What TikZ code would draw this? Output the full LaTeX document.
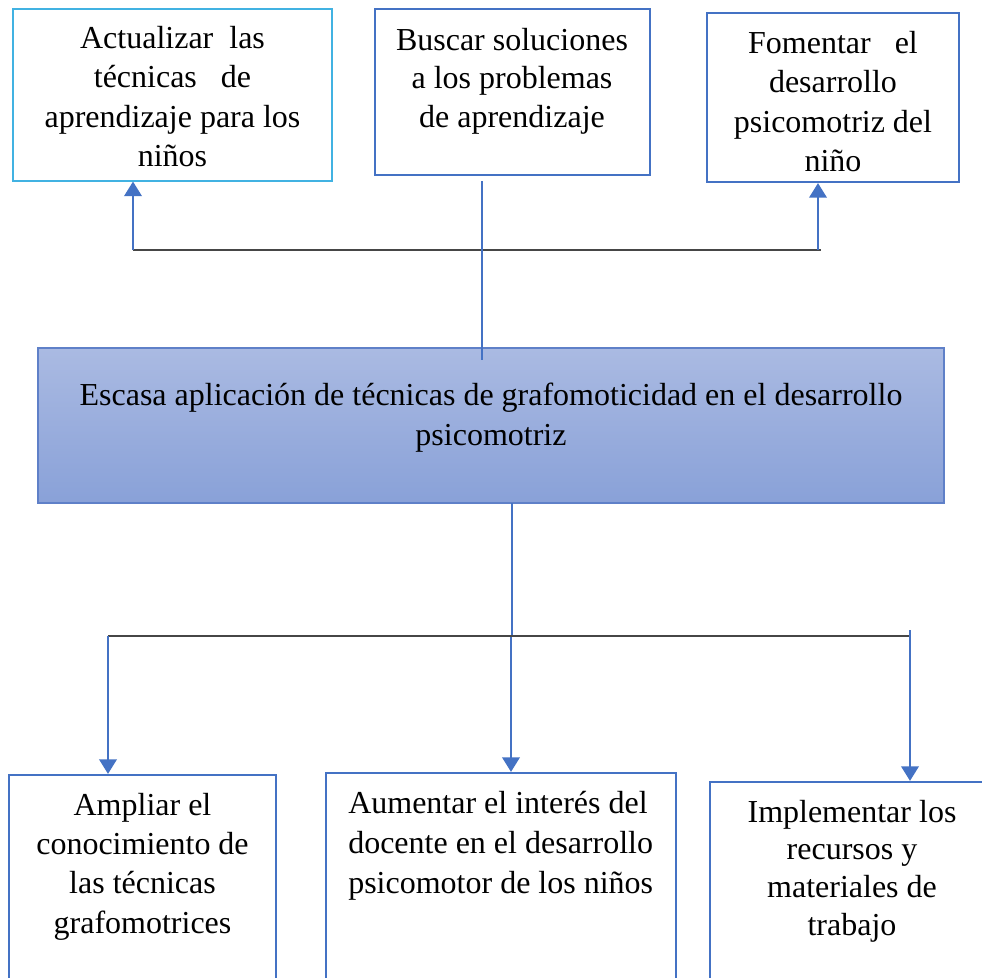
\documentclass[tikz,border=0pt]{standalone}
\usepackage{fontspec}
\setmainfont{Liberation Serif}
\usetikzlibrary{arrows.meta,calc,fit}
\definecolor{cyanb}{RGB}{65,178,226}
\definecolor{blueb}{RGB}{68,114,196}
\definecolor{darkl}{RGB}{70,70,70}
\definecolor{gtop}{RGB}{170,186,226}
\definecolor{gbot}{RGB}{137,161,216}
\definecolor{cborder}{RGB}{95,128,200}
\tikzset{
  boxcyan/.style={draw=cyanb,line width=0.8pt,inner sep=0pt},
  boxblue/.style={draw=blueb,line width=1.6pt,inner sep=0pt},
  boxmain/.style={draw=cborder,line width=1pt,inner sep=0pt,top color=gtop,bottom color=gbot},
  txt/.style={inner sep=0pt,anchor=base,align=flush center,font=\fontsize{24}{29.7}\selectfont},
  darkline/.style={draw=darkl,line width=1.4pt},
  thinblue/.style={draw=blueb,line width=0.8pt},
  bluearrow/.style={draw=blueb,line width=2.1pt,-{Triangle[width=13pt,length=11pt]}},
}
\begin{document}
\begin{tikzpicture}[x=0.75pt,y=-0.75pt]
\useasboundingbox (0,0) rectangle (982,978);
\clip (0,0) rectangle (982,978);
\fill[white] (0,0) rectangle (982,978);
% boxes
\node[boxcyan,fit={(13,9) (332,181)}] (b1) {};
\node[boxblue,fit={(375,9) (650,175)}] (b2) {};
\node[boxblue,fit={(707,13) (959,182)}] (b3) {};
\node[boxmain,fit={(38,348) (944,503)}] (bc) {};
\node[boxblue,fit={(9,775) (276,1010)}] (b4) {};
\node[boxblue,fit={(326,773) (676,1010)}] (b5) {};
\node[boxblue,fit={(710,782) (1000,1010)}] (b6) {};
% texts
\node[txt,text width=230pt] (t1) at (172.5,48) {Actualizar\ \ las\\t\'ecnicas\ \ \ de\\aprendizaje para los\\ni\~nos};
\node[txt,text width=200pt,font=\fontsize{24}{28.9}\selectfont] (t2) at (512,50) {Buscar soluciones\\a los problemas\\de aprendizaje};
\node[txt,text width=185pt] (t3) at (833,53) {Fomentar\ \ \ el\\desarrollo\\psicomotriz del\\ni\~no};
\node[txt,text width=650pt,font=\fontsize{24}{30}\selectfont] (tc) at (491,405) {Escasa aplicaci\'on de t\'ecnicas de grafomoticidad en el desarrollo\\psicomotriz};
\node[txt,text width=195pt,font=\fontsize{24}{29.5}\selectfont] (t4) at (142.5,815) {Ampliar el\\conocimiento de\\las t\'ecnicas\\grafomotrices};
\node[txt,text width=240pt,align=flush left,anchor=base west,font=\fontsize{24}{30}\selectfont] (t5) at (348,813) {Aumentar el inter\'es del\\docente en el desarrollo\\psicomotor de los ni\~nos};
\node[txt,text width=190pt,font=\fontsize{24}{28.3}\selectfont] (t6) at (852,822) {Implementar los\\recursos y\\materiales de\\trabajo};
% top connectors
\coordinate (hL) at (133,250);
\coordinate (hR) at (821,250);
\coordinate (hR2) at (818,250);
\coordinate (vTop) at (482,181);
\coordinate (vBot) at (482,360);
\draw[darkline] (hL) -- (hR);
\draw[bluearrow] (hL) -- (hL |- b1.south);
\draw[bluearrow] (hR2) -- (hR2 |- b3.south);
\draw[thinblue] (vTop) -- (vBot);
% bottom connectors
\coordinate (cB) at (512,503);
\coordinate (cJ) at (512,636);
\coordinate (gL) at (108,636);
\coordinate (gR) at (910,636);
\coordinate (gR0) at (910,630);
\coordinate (gM) at (511,637);
\draw[thinblue] (cB) -- (cJ);
\draw[darkline] (gL) -- (gR);
\draw[bluearrow] (gL) -- (gL |- b4.north);
\draw[bluearrow] (gM) -- (gM |- b5.north);
\draw[bluearrow] (gR0) -- (gR0 |- b6.north);
\end{tikzpicture}
\end{document}
